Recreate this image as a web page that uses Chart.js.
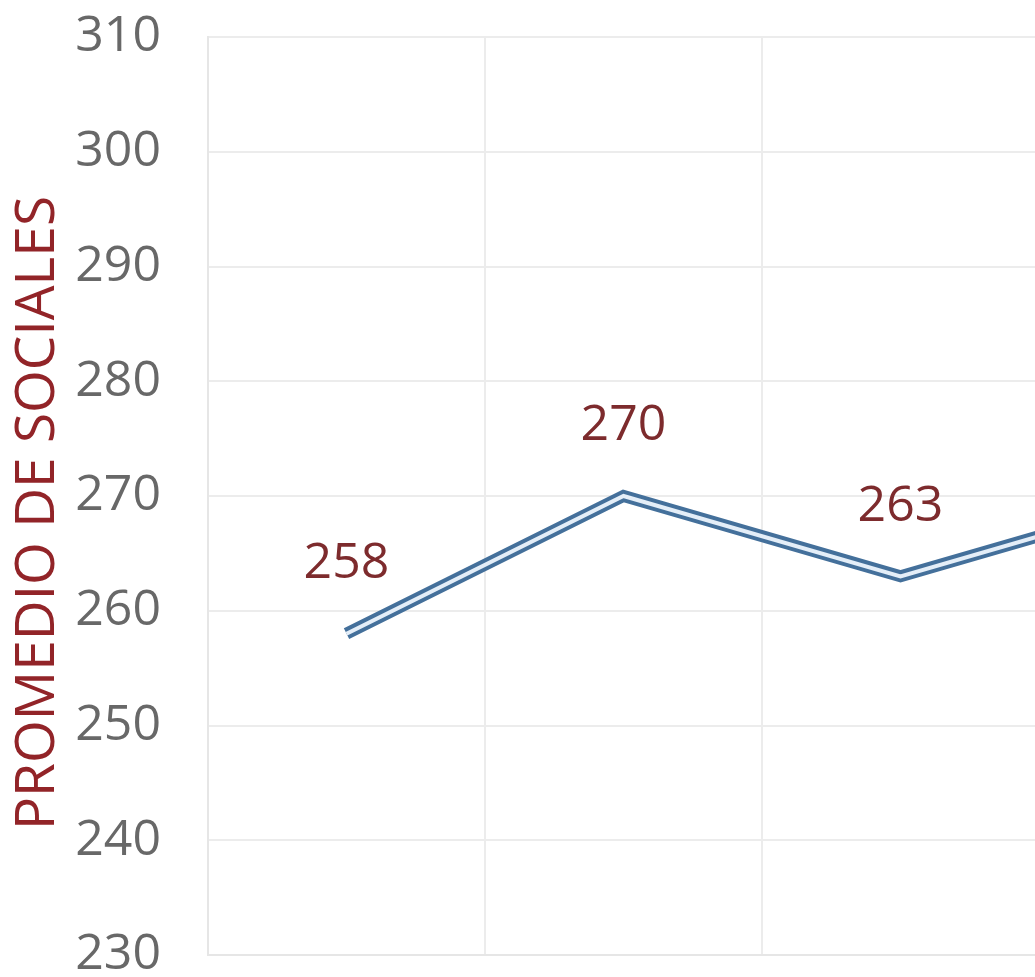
<!DOCTYPE html>
<html>
<head>
<meta charset="utf-8">
<script src="https://cdn.jsdelivr.net/npm/chart.js@4/dist/chart.umd.min.js"></script>
<style>
  html, body { margin: 0; padding: 0; background: #ffffff; overflow: hidden; }
  #wrap { position: absolute; left: 0; top: 0; width: 1330px; height: 1000px; }
</style>
</head>
<body>
<div id="wrap"><canvas id="c"></canvas></div>
<script>
const categories = ["1", "2", "3", "4"];
const promedioSociales = [258, 270, 263, 270];
const yTicks = { min: 230, max: 310, step: 10 };
const axisTitle = "PROMEDIO DE SOCIALES";

const FONT = "'Open Sans', 'Noto Sans', sans-serif";

const valueLabels = {
  id: 'valueLabels',
  afterDatasetsDraw(chart) {
    const ctx = chart.ctx;
    const meta = chart.getDatasetMeta(0);
    ctx.save();
    ctx.font = "50px " + FONT;
    ctx.fillStyle = "#7d2b2d";
    ctx.textAlign = "center";
    ctx.textBaseline = "middle";
    meta.data.forEach((pt, i) => {
      ctx.fillText(String(promedioSociales[i]), pt.x, pt.y - 70);
    });
    ctx.restore();
  }
};

const axisTitlePlugin = {
  id: 'axisTitlePlugin',
  afterDraw(chart) {
    const ctx = chart.ctx;
    const area = chart.chartArea;
    ctx.save();
    ctx.translate(38, (area.top + area.bottom) / 2 + 17);
    ctx.rotate(-Math.PI / 2);
    ctx.font = "55px " + FONT;
    ctx.fillStyle = "#922428";
    ctx.textAlign = "center";
    ctx.textBaseline = "middle";
    ctx.fillText(axisTitle, 0, 0);
    ctx.restore();
  }
};

new Chart(document.getElementById('c'), {
  type: 'line',
  data: {
    labels: categories,
    datasets: [
      {
        data: promedioSociales,
        borderColor: '#44709b',
        borderWidth: 12,
        pointRadius: 0,
        tension: 0,
        fill: false,
        borderJoinStyle: 'miter',
        order: 2
      },
      {
        data: promedioSociales,
        borderColor: '#e4eef8',
        borderWidth: 4,
        pointRadius: 0,
        tension: 0,
        fill: false,
        borderJoinStyle: 'miter',
        order: 1
      }
    ]
  },
  options: {
    responsive: true,
    maintainAspectRatio: false,
    animation: false,
    layout: { padding: { left: 0, right: 14, top: 37, bottom: 45 } },
    plugins: {
      legend: { display: false },
      tooltip: { enabled: false }
    },
    scales: {
      x: {
        offset: true,
        grid: { offset: true, color: '#ececec', lineWidth: 2, drawTicks: false },
        border: { color: '#e6e6e6', width: 2 },
        ticks: { display: false }
      },
      y: {
        min: yTicks.min,
        max: yTicks.max,
        afterFit(scale) { scale.width = 208; },
        grid: {
          color: '#ececec',
          lineWidth: 2,
          drawTicks: true,
          tickLength: 47,
          tickColor: 'rgba(0,0,0,0)'
        },
        border: { color: '#e6e6e6', width: 2 },
        ticks: {
          stepSize: yTicks.step,
          padding: 0,
          color: '#686868',
          font: { family: FONT, size: 50 }
        },
        title: { display: false }
      }
    }
  },
  plugins: [valueLabels, axisTitlePlugin]
});
</script>
</body>
</html>
